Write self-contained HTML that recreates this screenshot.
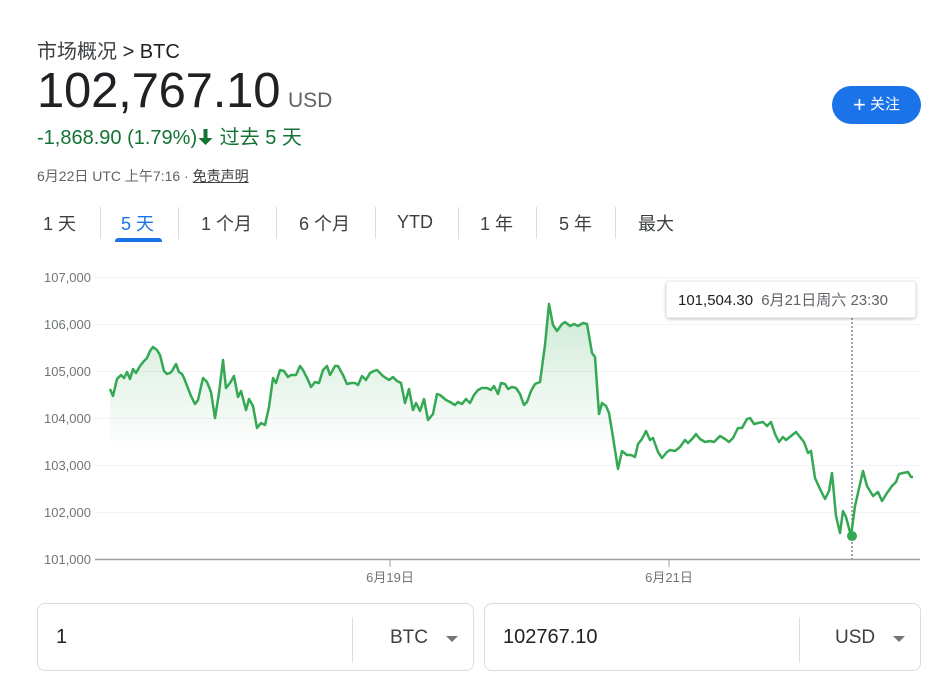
<!DOCTYPE html>
<html><head><meta charset="utf-8"><style>
body{margin:0;width:939px;height:682px;background:#fff;font-family:"Liberation Sans","Noto Sans CJK SC",sans-serif;position:relative;overflow:hidden}
.a{position:absolute;white-space:nowrap}
.tab{position:absolute;top:210px;font-size:18px;color:#3c4043}
.sep{position:absolute;top:207px;width:1px;height:32px;background:#dadce0}
.box{position:absolute;top:603px;height:68px;border:1px solid #dadce0;border-radius:8px;box-sizing:border-box}
</style></head><body>
<div class="a" style="left:37px;top:35px;font-size:20px;color:#3c4043">市场概况 <span style="color:#202124">&gt; BTC</span></div>
<div class="a" style="left:37px;top:63px;font-size:49px;color:#202124;letter-spacing:-0.2px">102,767.10</div>
<div class="a" style="left:288px;top:89px;font-size:21px;color:#5f6368">USD</div>
<div class="a" style="left:37px;top:121px;font-size:20px;color:#137333">-1,868.90 (1.79%)<svg width="17" height="18" viewBox="0 0 17 18" style="vertical-align:-2px"><path d="M8.5 17 L1.5 10 L5.5 10 L6.5 10 L6.5 1 L10.5 1 L10.5 10 L15.5 10 Z" fill="#137333"/></svg> 过去 5 天</div>
<div class="a" style="left:37px;top:166px;font-size:14px;color:#5f6368">6月22日 UTC 上午7:16 · <span style="text-decoration:underline;color:#3c4043">免责声明</span></div>
<div class="a" style="left:832px;top:86px;width:89px;height:38px;border-radius:19px;background:#1a73e8;color:#fff;font-size:15px;line-height:38px;text-align:center"><span style="font-size:22px;vertical-align:-3px">+</span> 关注</div>
<div class="tab" style="left:43px">1 天</div><div class="sep" style="left:100px"></div>
<div class="tab" style="left:121px;color:#1a73e8">5 天</div>
<div class="a" style="left:115px;top:238px;width:47px;height:4px;background:#1a73e8;border-radius:3px 3px 0 0"></div>
<div class="sep" style="left:178px"></div>
<div class="tab" style="left:201px">1 个月</div><div class="sep" style="left:276px"></div>
<div class="tab" style="left:299px">6 个月</div><div class="sep" style="left:375px"></div>
<div class="tab" style="left:397px;top:212px">YTD</div><div class="sep" style="left:458px"></div>
<div class="tab" style="left:480px">1 年</div><div class="sep" style="left:536px"></div>
<div class="tab" style="left:559px">5 年</div><div class="sep" style="left:615px"></div>
<div class="tab" style="left:638px">最大</div>
<svg class="a" style="left:0;top:0" width="939" height="600">
<defs><linearGradient id="g" gradientUnits="userSpaceOnUse" x1="0" y1="300" x2="0" y2="450"><stop offset="0" stop-color="#34a853" stop-opacity="0.25"/><stop offset="1" stop-color="#34a853" stop-opacity="0"/></linearGradient>
<filter id="sh" x="-10%" y="-30%" width="120%" height="160%"><feDropShadow dx="0" dy="1" stdDeviation="1.5" flood-opacity="0.25"/></filter></defs>
<g stroke="#f1f3f4" stroke-width="1">
<line x1="95" x2="920" y1="277.5" y2="277.5"/><line x1="95" x2="920" y1="324.5" y2="324.5"/><line x1="95" x2="920" y1="371.5" y2="371.5"/><line x1="95" x2="920" y1="418.5" y2="418.5"/><line x1="95" x2="920" y1="465.5" y2="465.5"/><line x1="95" x2="920" y1="512.5" y2="512.5"/></g>
<g font-size="13" fill="#70757a" text-anchor="end">
<text x="91" y="282">107,000</text><text x="91" y="329">106,000</text><text x="91" y="376">105,000</text><text x="91" y="423">104,000</text><text x="91" y="470">103,000</text><text x="91" y="517">102,000</text><text x="91" y="564">101,000</text></g>
<path fill="url(#g)" stroke="none" d="M110,389 L113,396 117,379 121,375 124,378 127,372 130,379 133,369 136,373 140,366 144,361 147,358 150,351 153,347 157,350 160,355 164,371 167,374 170,373 172,371 176,364 179,372 182,374 184,378 191,396 195,404 198,400 203,378 207,382 211,392 215,418 219,393 223,360 226,388 230,383 234,376 238,397 241,391 246,410 249,399 253,406 257,428 261,423 265,425 269,407 273,378 276,383 280,370 284,371 288,377 291,375 296,375 300,366 303,370 308,380 311,387 315,382 319,383 323,370 327,366 330,375 335,366 338,366 343,375 347,384 351,383 355,383 358,385 362,376 366,380 370,373 374,371 377,370 383,376 389,380 393,377 397,381 401,383 405,403 409,389 413,410 416,403 420,411 424,399 428,420 433,414 437,394 440,395 446,400 450,402 455,405 458,402 462,404 466,399 470,403 474,395 478,390 482,388 487,388 491,390 494,386 498,394 501,383 505,384 508,389 512,387 516,388 520,394 524,405 527,402 531,391 535,384 540,382 545,345 549,304 553,325 557,331 562,324 565,322 570,326 574,324 578,326 583,323 587,324 592,353 595,357 599,414 602,403 606,406 609,413 612,431 618,469 L618,559 L110,559 Z"/>
<line x1="95" x2="920" y1="559.5" y2="559.5" stroke="#9aa0a6" stroke-width="1.5"/>
<line x1="390" x2="390" y1="559" y2="567" stroke="#9aa0a6"/><line x1="669" x2="669" y1="559" y2="567" stroke="#9aa0a6"/>
<text x="390" y="582" font-size="13" fill="#70757a" text-anchor="middle">6月19日</text>
<text x="669" y="582" font-size="13" fill="#70757a" text-anchor="middle">6月21日</text>
<line x1="852" x2="852" y1="318" y2="559" stroke="#80868b" stroke-width="1.5" stroke-dasharray="2,2"/>
<polyline fill="none" stroke="#34a853" stroke-width="2.5" stroke-linejoin="round" points="110,389 113,396 117,379 121,375 124,378 127,372 130,379 133,369 136,373 140,366 144,361 147,358 150,351 153,347 157,350 160,355 164,371 167,374 170,373 172,371 176,364 179,372 182,374 184,378 191,396 195,404 198,400 203,378 207,382 211,392 215,418 219,393 223,360 226,388 230,383 234,376 238,397 241,391 246,410 249,399 253,406 257,428 261,423 265,425 269,407 273,378 276,383 280,370 284,371 288,377 291,375 296,375 300,366 303,370 308,380 311,387 315,382 319,383 323,370 327,366 330,375 335,366 338,366 343,375 347,384 351,383 355,383 358,385 362,376 366,380 370,373 374,371 377,370 383,376 389,380 393,377 397,381 401,383 405,403 409,389 413,410 416,403 420,411 424,399 428,420 433,414 437,394 440,395 446,400 450,402 455,405 458,402 462,404 466,399 470,403 474,395 478,390 482,388 487,388 491,390 494,386 498,394 501,383 505,384 508,389 512,387 516,388 520,394 524,405 527,402 531,391 535,384 540,382 545,345 549,304 553,325 557,331 562,324 565,322 570,326 574,324 578,326 583,323 587,324 592,353 595,357 599,414 602,403 606,406 609,413 612,431 618,469 622,451 627,455 631,455 635,457 638,444 642,439 646,431 650,440 653,438 658,452 662,458 667,452 670,450 675,451 680,447 685,440 688,443 693,438 696,434 700,439 705,442 710,441 714,442 720,436 725,439 729,442 733,438 738,428 742,428 747,419 750,418 754,424 758,423 763,422 767,426 771,422 775,434 779,442 783,437 786,440 791,436 796,432 800,437 804,442 808,453 811,451 815,478 820,489 825,499 829,491 832,473 836,516 840,533 843,511 846,517 851,536 855,506 863,471 867,486 873,496 878,492 882,501 887,493 892,486 896,482 899,474 903,473 908,472 911,477 913,477"/>
<circle cx="852" cy="536" r="5" fill="#34a853"/>
<rect x="666.5" y="281.5" width="249" height="36" rx="3" fill="#fff" stroke="#eeeeee" filter="url(#sh)"/>
<text x="678" y="305" font-size="15" fill="#202124">101,504.30 <tspan fill="#5f6368" dx="4">6月21日周六 23:30</tspan></text>
</svg>
<div class="box" style="left:37px;width:437px"></div>
<div class="a" style="left:352px;top:617px;width:1px;height:46px;background:#dadce0"></div>
<div class="a" style="left:56px;top:626px;font-size:20px;color:#202124">1</div>
<div class="a" style="left:390px;top:627px;font-size:19px;color:#3c4043">BTC</div>
<div class="a" style="left:446px;top:636px;width:0;height:0;border-left:6px solid transparent;border-right:6px solid transparent;border-top:6px solid #757575"></div>
<div class="box" style="left:484px;width:437px"></div>
<div class="a" style="left:799px;top:617px;width:1px;height:46px;background:#dadce0"></div>
<div class="a" style="left:503px;top:626px;font-size:20px;color:#202124">102767.10</div>
<div class="a" style="left:835px;top:627px;font-size:19px;color:#3c4043">USD</div>
<div class="a" style="left:893px;top:636px;width:0;height:0;border-left:6px solid transparent;border-right:6px solid transparent;border-top:6px solid #757575"></div>
</body></html>
